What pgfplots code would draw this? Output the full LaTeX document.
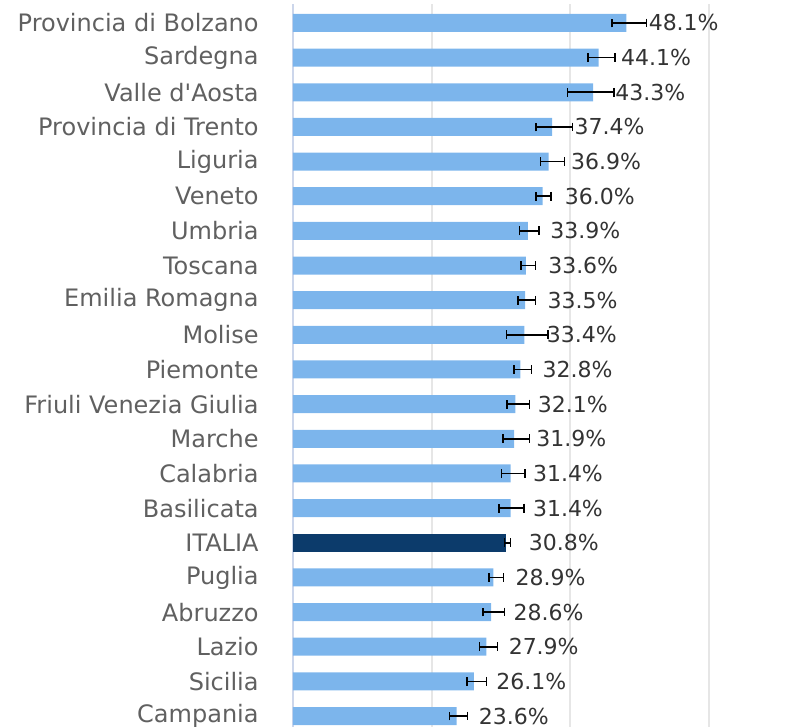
\documentclass[border=0pt]{standalone}
\usepackage{pgfplots}
\pgfplotsset{compat=1.18}
\usepackage{fontspec}
\setmainfont{DejaVu Sans}
\definecolor{barblue}{HTML}{7CB5EC}
\definecolor{italia}{HTML}{0C3B6B}
\definecolor{gridgray}{HTML}{E6E6E6}
\definecolor{axisline}{HTML}{CCD6EB}
\definecolor{ticktext}{HTML}{606060}
\definecolor{labeltext}{HTML}{333333}
\begin{document}
\begin{tikzpicture}
\begin{axis}[
    scale only axis, width=249.5pt, height=361.5pt,
    xmin=0, xmax=72, ymin=-0.317, ymax=20.548,
    axis lines*=left,
    x axis line style={draw=none},
    y axis line style={draw=axisline, line width=1pt},
    xtick={0,20,40,60}, xticklabels={},
    xmajorgrids, major grid style={draw=gridgray, line width=0.9pt},
    ytick={0,...,20},
    yticklabels={Campania, Sicilia, Lazio, Abruzzo, Puglia, ITALIA, Basilicata,
        Calabria, Marche, Friuli Venezia Giulia, Piemonte, Molise, Emilia Romagna,
        Toscana, Umbria, Veneto, Liguria, Provincia di Trento, Valle d\textquotesingle Aosta,
        Sardegna, Provincia di Bolzano},
    major tick length=0pt,
    yticklabel style={font=\fontsize{12}{14}\selectfont, text=ticktext, inner sep=0pt, xshift=-17pt},
    /pgf/number format/assume math mode=true,
    xbar, bar width=9pt, bar shift=0pt,
    point meta=x,
    nodes near coords={\pgfmathprintnumber[fixed,fixed zerofill,precision=1]{\pgfplotspointmeta}\%},
    nodes near coords style={font=\fontsize{11}{13}\selectfont, text=labeltext, anchor=west, inner sep=0pt, xshift=11pt},
    error bars/x dir=both, error bars/x explicit,
    error bars/error bar style={draw=black, line width=0.8pt},
    error bars/error mark options={draw=black, line width=0.8pt, mark size=2.2pt, rotate=90},
    clip=false,
]
% regioni
\addplot[fill=barblue, draw=none] coordinates {
    (23.6,0) += (1.6,0) -= (1.0,0)
    (26.1,1) += (1.8,0) -= (1.0,0)
    (27.9,2) += (1.6,0) -= (1.0,0)
    (28.6,3) += (1.9,0) -= (1.2,0)
    (28.9,4) += (1.5,0) -= (0.6,0)
    (31.4,6) += (1.9,0) -= (1.7,0)
    (31.4,7) += (2.1,0) -= (1.3,0)
    (31.9,8) += (2.2,0) -= (1.6,0)
    (32.1,9) += (2.0,0) -= (1.2,0)
    (32.8,10) += (1.6,0) -= (0.95,0)
    (33.4,11) += (3.4,0) -= (2.6,0)
    (33.5,12) += (1.5,0) -= (1.05,0)
    (33.6,13) += (1.4,0) -= (0.7,0)
    (33.9,14) += (1.6,0) -= (1.2,0)
    (36.0,15) += (1.2,0) -= (0.9,0)
    (36.9,16) += (2.3,0) -= (1.2,0)
    (37.4,17) += (2.9,0) -= (2.3,0)
    (43.3,18) += (3.0,0) -= (3.7,0)
    (44.1,19) += (2.4,0) -= (1.5,0)
    (48.1,20) += (2.9,0) -= (2.1,0)
};
% media nazionale
\addplot[fill=italia, draw=none] coordinates {
    (30.8,5) += (0.6,0) -= (0.3,0)
};
\end{axis}
\pgfresetboundingbox
\path (-146.5pt,0pt) rectangle (249.5pt,363.5pt);
\end{tikzpicture}
\end{document}
